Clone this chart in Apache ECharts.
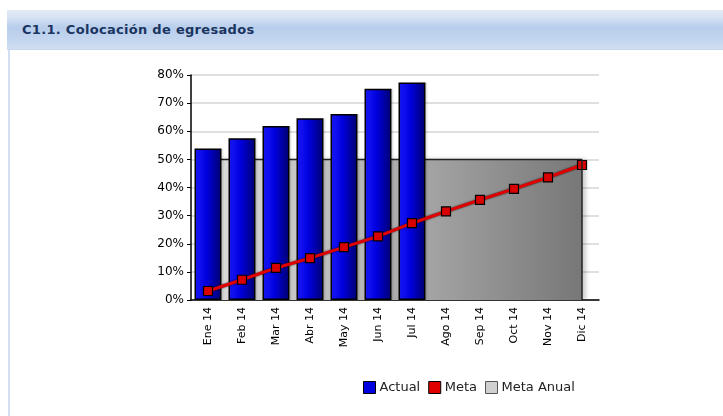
<!DOCTYPE html>
<html>
<head>
<meta charset="utf-8">
<script src="https://cdn.jsdelivr.net/npm/echarts@6/dist/echarts.min.js"></script>
<style>
  html, body { margin: 0; padding: 0; background: #fff; }
  #wrap { position: relative; width: 723px; height: 416px; overflow: hidden; }
  #header {
    position: absolute; left: 7px; top: 10px; width: 716px; height: 39px;
    background: linear-gradient(to bottom, #e3ebf6 0%, #d6e2f3 20%, #b7cdeb 45%, #c3d5ef 75%, #d0def2 100%);
    border-bottom: 1px solid #c7d7ee;
  }
  #header span {
    position: absolute; left: 15px; top: 12px;
    font: bold 13px "DejaVu Sans", sans-serif;
    letter-spacing: 0.3px;
    color: #1a3560;
  }
  #leftline { position: absolute; left: 8px; top: 50px; width: 2px; height: 366px; background: #d3e0f3; }
  #chart { position: absolute; left: 0; top: 0; width: 723px; height: 416px; }
</style>
</head>
<body>
<div id="wrap">
  <div id="header"><span>C1.1. Colocación de egresados</span></div>
  <div id="leftline"></div>
  <div id="chart"></div>
</div>
<script>
// meses del año
const months = ['Ene 14', 'Feb 14', 'Mar 14', 'Abr 14', 'May 14', 'Jun 14', 'Jul 14', 'Ago 14', 'Sep 14', 'Oct 14', 'Nov 14', 'Dic 14'];
// valores reales (solo hasta julio)
const actual = [53.9, 57.5, 61.9, 64.6, 66.1, 75.1, 77.3, null, null, null, null, null];
// meta mensual acumulada
const meta = [3.2, 7.2, 11.4, 14.9, 18.8, 22.6, 27.3, 31.5, 35.6, 39.5, 43.6, 48.0];
// meta anual
const metaAnual = [50, 50, 50, 50, 50, 50, 50, 50, 50, 50, 50, 50];

const chart = echarts.init(document.getElementById('chart'));

const font = '"DejaVu Sans", sans-serif';

const option = {
  animation: false,
  backgroundColor: 'transparent',
  grid: { left: 191, right: 124, top: 75, bottom: 116 },
  legend: {
    left: 358,
    top: 376,
    itemWidth: 12,
    itemHeight: 12,
    itemGap: 8,
    icon: 'rect',
    textStyle: { fontFamily: font, fontSize: 13, color: '#222', padding: [0, 0, 0, -1] },
    data: [
      { name: 'Actual', itemStyle: { color: '#0000e0', borderColor: '#000', borderWidth: 1 } },
      { name: 'Meta', itemStyle: { color: '#e00000', borderColor: '#000', borderWidth: 1 } },
      { name: 'Meta Anual', itemStyle: { color: '#d0d0d0', borderColor: '#555', borderWidth: 1 } }
    ]
  },
  xAxis: {
    type: 'category',
    data: months,
    boundaryGap: true,
    axisLine: { lineStyle: { color: '#000', width: 1.5 } },
    axisTick: { alignWithLabel: true, length: 5, lineStyle: { color: '#000' } },
    axisLabel: { rotate: 90, fontFamily: font, fontSize: 11, color: '#000', margin: 7, interval: 0 },
    splitLine: { show: false }
  },
  yAxis: {
    type: 'value',
    min: 0,
    max: 80,
    interval: 10,
    axisLine: { show: true, lineStyle: { color: '#000', width: 1.5 } },
    axisTick: { show: true, length: 4, lineStyle: { color: '#000' } },
    axisLabel: { formatter: '{value}%', fontFamily: font, fontSize: 12, color: '#000', margin: 7 },
    splitLine: { lineStyle: { color: '#d4d4d4', width: 1.5 } }
  },
  series: [
    {
      name: 'Meta Anual',
      type: 'line',
      data: metaAnual,
      symbol: 'none',
      z: 1,
      lineStyle: { color: '#222', width: 1.5 },
      itemStyle: { color: '#d0d0d0' },
      areaStyle: {
        opacity: 1,
        color: new echarts.graphic.LinearGradient(0, 0, 1, 0, [
          { offset: 0, color: '#dcdcdc' },
          { offset: 0.55, color: '#a8a8a8' },
          { offset: 1, color: '#777777' }
        ]),
        shadowColor: 'rgba(0,0,0,0.2)',
        shadowBlur: 4,
        shadowOffsetX: 4,
        shadowOffsetY: 0
      },
      markLine: {
        silent: true,
        symbol: 'none',
        label: { show: false },
        lineStyle: { color: '#222', width: 1.5, type: 'solid' },
        data: [[{ coord: [months[11], 0] }, { coord: [months[11], metaAnual[11]] }]]
      }
    },
    {
      name: 'Actual',
      type: 'bar',
      data: actual,
      barWidth: 27,
      z: 2,
      itemStyle: {
        color: new echarts.graphic.LinearGradient(0, 0, 1, 0, [
          { offset: 0, color: '#1a1aff' },
          { offset: 0.45, color: '#0000dd' },
          { offset: 1, color: '#00006e' }
        ]),
        borderColor: '#000',
        borderWidth: 1.5,
        shadowColor: 'rgba(0,0,0,0.08)',
        shadowBlur: 1,
        shadowOffsetX: 2,
        shadowOffsetY: 0
      }
    },
    {
      name: 'Meta',
      type: 'line',
      data: meta,
      z: 3,
      symbol: 'rect',
      symbolSize: 9,
      lineStyle: {
        color: '#e00000',
        width: 3,
        shadowColor: 'rgba(40,0,0,0.9)',
        shadowBlur: 2
      },
      itemStyle: { color: '#d80000', borderColor: '#000', borderWidth: 1.2 }
    }
  ]
};

chart.setOption(option);
</script>
</body>
</html>
